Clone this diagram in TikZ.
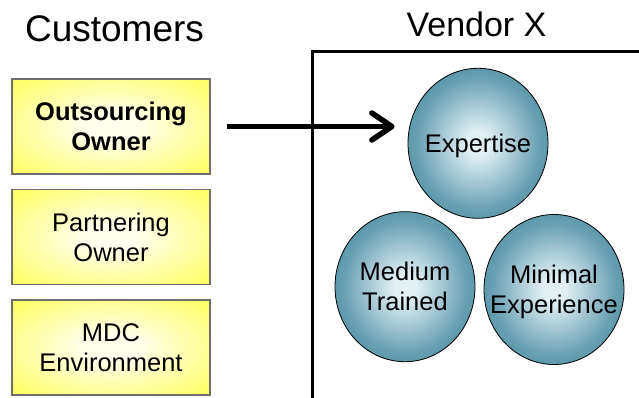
\documentclass[tikz,border=0pt]{standalone}
\usepackage{fontspec}
\setmainfont{Liberation Sans}
\usetikzlibrary{arrows.meta,shapes.geometric}
\definecolor{ballin}{RGB}{226,240,244}
\definecolor{ballmid}{RGB}{104,160,178}
\definecolor{ballout}{RGB}{46,120,140}
\definecolor{balledge}{RGB}{36,102,122}
\definecolor{boxin}{RGB}{255,255,236}
\definecolor{boxout}{RGB}{255,255,100}
\definecolor{boxline}{RGB}{110,110,110}
\pgfdeclareradialshading{ballshade}{\pgfpoint{0bp}{0bp}}{color(0bp)=(ballin); color(4bp)=(ballin); color(22bp)=(ballmid); color(38bp)=(ballout); color(50bp)=(balledge)}
\pgfdeclareradialshading{boxshade}{\pgfpoint{0bp}{0bp}}{color(0bp)=(boxin); color(7bp)=(boxin); color(34bp)=(boxout); color(50bp)=(boxout)}
\tikzset{
  custbox/.style={rectangle, draw=boxline, line width=1.1pt, shading=boxshade,
    minimum width=198pt, minimum height=95pt, inner sep=0pt, align=center,
    font=\fontsize{25.5}{30}\selectfont, text depth=0pt},
  ball/.style={ellipse, draw=black, line width=0.8pt, shading=ballshade,
    minimum width=140pt, minimum height=150pt, inner xsep=-25pt, inner ysep=-15pt,
    align=center, font=\fontsize{25.5}{30}\selectfont, text depth=0pt},
  heading/.style={anchor=base, inner sep=0pt},
  bigarrow/.style={line width=5.5pt, -{Straight Barb[length=20pt,width=27pt,round]}},
  frame/.style={line width=3pt}
}
\begin{document}
\begin{tikzpicture}[x=1pt,y=-1pt]
\useasboundingbox (0,0) rectangle (639,398);
\node[heading, font=\fontsize{37}{40}\selectfont] (cust) at (114.5,42) {Customers};
\node[heading, font=\fontsize{34}{40}\selectfont] (vend) at (476.5,37) {Vendor X};
\draw[frame] (312,400) -- (312,52) -- (645,52);
\node[custbox] (ob) at (111,126.5) {\bfseries Outsourcing\\\bfseries Owner};
\node[custbox] (po) at (111,237) {Partnering\\Owner};
\node[custbox] (mdc) at (111,347.5) {MDC\\Environment};
\node[ball] (exp) at (478,143.3) {Expertise};
\node[ball] (med) at (405,286.7) {Medium\\Trained};
\node[ball] (min) at (554,289.5) {Minimal\\Experience};
\draw[bigarrow, shorten <=16pt, shorten >=13pt] (ob.east) -- (ob.east -| exp.west);
\end{tikzpicture}
\end{document}
